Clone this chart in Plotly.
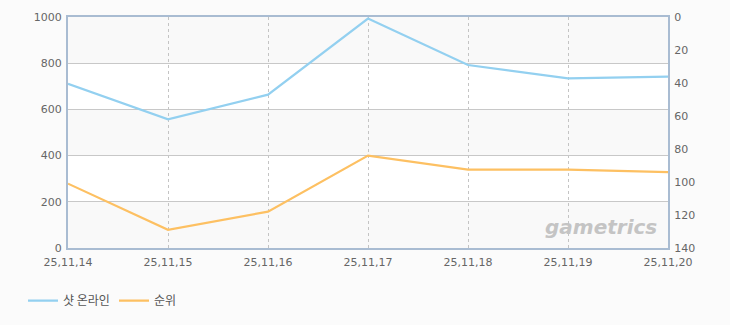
import plotly.graph_objects as go

dates = ["25,11,14", "25,11,15", "25,11,16", "25,11,17", "25,11,18", "25,11,19", "25,11,20"]
shot_online = [711, 557, 664, 993, 792, 734, 742]
rank = [101, 129, 118, 84, 92.5, 92.5, 94]
left_ticks = [0, 200, 400, 600, 800, 1000]
right_ticks = [0, 20, 40, 60, 80, 100, 120, 140]

xi = list(range(len(dates)))

fig = go.Figure()
fig.add_trace(go.Scatter(x=xi, y=shot_online, name="샷 온라인", mode="lines",
                         line=dict(color="#93d0f0", width=2.2), yaxis="y"))
fig.add_trace(go.Scatter(x=xi, y=rank, name="순위", mode="lines",
                         line=dict(color="#fdc062", width=2.2), yaxis="y2"))

# alternating bands
shapes = []
for i in range(0, len(left_ticks) - 1):
    shapes.append(dict(type="rect", xref="paper", yref="y", x0=0, x1=1,
                       y0=left_ticks[i], y1=left_ticks[i + 1],
                       fillcolor="#f9f9f9" if i % 2 == 0 else "#ffffff",
                       line=dict(width=0), layer="below"))

tickfont = dict(family="DejaVu Sans, Noto Sans CJK KR", size=11, color="#666666")

fig.update_layout(
    width=730, height=325,
    margin=dict(l=68, r=62, t=17, b=77, autoexpand=False),
    paper_bgcolor="#fbfbfb", plot_bgcolor="#fbfbfb",
    shapes=shapes,
    showlegend=True,
    legend=dict(orientation="h", x=-0.075, y=-0.228, xanchor="left", yanchor="middle",
                font=dict(family="Noto Sans CJK KR", size=12, color="#555555"),
                bgcolor="rgba(0,0,0,0)", itemwidth=30,
                entrywidth=46, entrywidthmode="pixels"),
    xaxis=dict(range=[0, len(dates) - 1], tickvals=xi, ticktext=dates,
               showgrid=True, gridcolor="#c4c4c4", griddash="3px,3px", gridwidth=1,
               showline=True, linecolor="#a9bcd2", linewidth=2, mirror=True,
               ticks="", tickfont=tickfont, zeroline=False, fixedrange=True,
               ticklabelstandoff=3, automargin=False),
    yaxis=dict(range=[0, 1000], tickvals=left_ticks, showgrid=True, gridcolor="#c8c8c8",
               gridwidth=1, showline=True, linecolor="#a9bcd2", linewidth=2,
               ticks="", tickfont=tickfont, zeroline=False, ticklabelstandoff=2,
               automargin=False),
    yaxis2=dict(range=[140, 0], tickvals=right_ticks, overlaying="y", side="right",
                showgrid=False, showline=True, linecolor="#a9bcd2", linewidth=2,
                ticks="", tickfont=tickfont, zeroline=False, ticklabelstandoff=2,
                automargin=False),
    annotations=[dict(text="<b><i>gametrics</i></b>", xref="paper", yref="paper",
                      x=0.985, y=0.09, xanchor="right", yanchor="middle", showarrow=False,
                      font=dict(family="DejaVu Sans", size=20, color="#c4c4c4"))],
)

fig.write_html("out.html")
